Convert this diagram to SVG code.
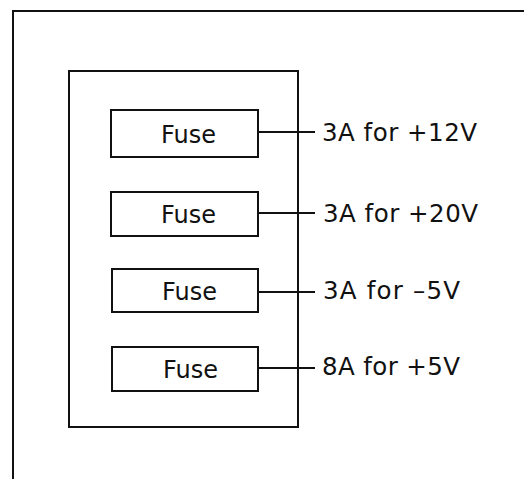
<svg xmlns="http://www.w3.org/2000/svg" width="524" height="479" viewBox="0 0 524 479">
<style>
.ln{fill:none;stroke:#111;stroke-width:2}
.box{fill:#fff;stroke:#111;stroke-width:2}
.t{font-family:"DejaVu Sans","Liberation Sans",Arial,sans-serif;font-size:25px;fill:#111}
.lb{font-family:"DejaVu Sans","Liberation Sans",Arial,sans-serif;font-size:24.5px;fill:#111}
</style>
<rect width="524" height="479" fill="#fff"/>
<g id="frame"><path class="ln" d="M13,479 V11 H524"/></g>
<g id="panel"><rect class="ln" x="69" y="71" width="229" height="356"/></g>
<g id="connectors">
<line class="ln" x1="258" y1="132" x2="315" y2="132"/>
<line class="ln" x1="258" y1="213" x2="315" y2="213"/>
<line class="ln" x1="258" y1="292" x2="315" y2="292"/>
<line class="ln" x1="258" y1="368" x2="315" y2="368"/>
</g>
<g id="fuse1"><rect class="box" x="111" y="110" width="147" height="47"/><text class="t" x="161" y="143" textLength="55" lengthAdjust="spacingAndGlyphs">Fuse</text></g>
<g id="fuse2"><rect class="box" x="111" y="192" width="147" height="44"/><text class="t" x="161" y="223" textLength="55" lengthAdjust="spacingAndGlyphs">Fuse</text></g>
<g id="fuse3"><rect class="box" x="112" y="269" width="146" height="43"/><text class="t" x="162" y="300" textLength="55" lengthAdjust="spacingAndGlyphs">Fuse</text></g>
<g id="fuse4"><rect class="box" x="112" y="347" width="146" height="44"/><text class="t" x="163" y="378" textLength="55" lengthAdjust="spacingAndGlyphs">Fuse</text></g>
<g id="label1"><text class="lb" x="322" y="141" textLength="155" lengthAdjust="spacing">3A for +12V</text></g>
<g id="label2"><text class="lb" x="323" y="222" textLength="155" lengthAdjust="spacing">3A for +20V</text></g>
<g id="label3"><text class="lb" x="323" y="299" textLength="137" lengthAdjust="spacing">3A for –5V</text></g>
<g id="label4"><text class="lb" x="322" y="375" textLength="138" lengthAdjust="spacing">8A for +5V</text></g>
</svg>
